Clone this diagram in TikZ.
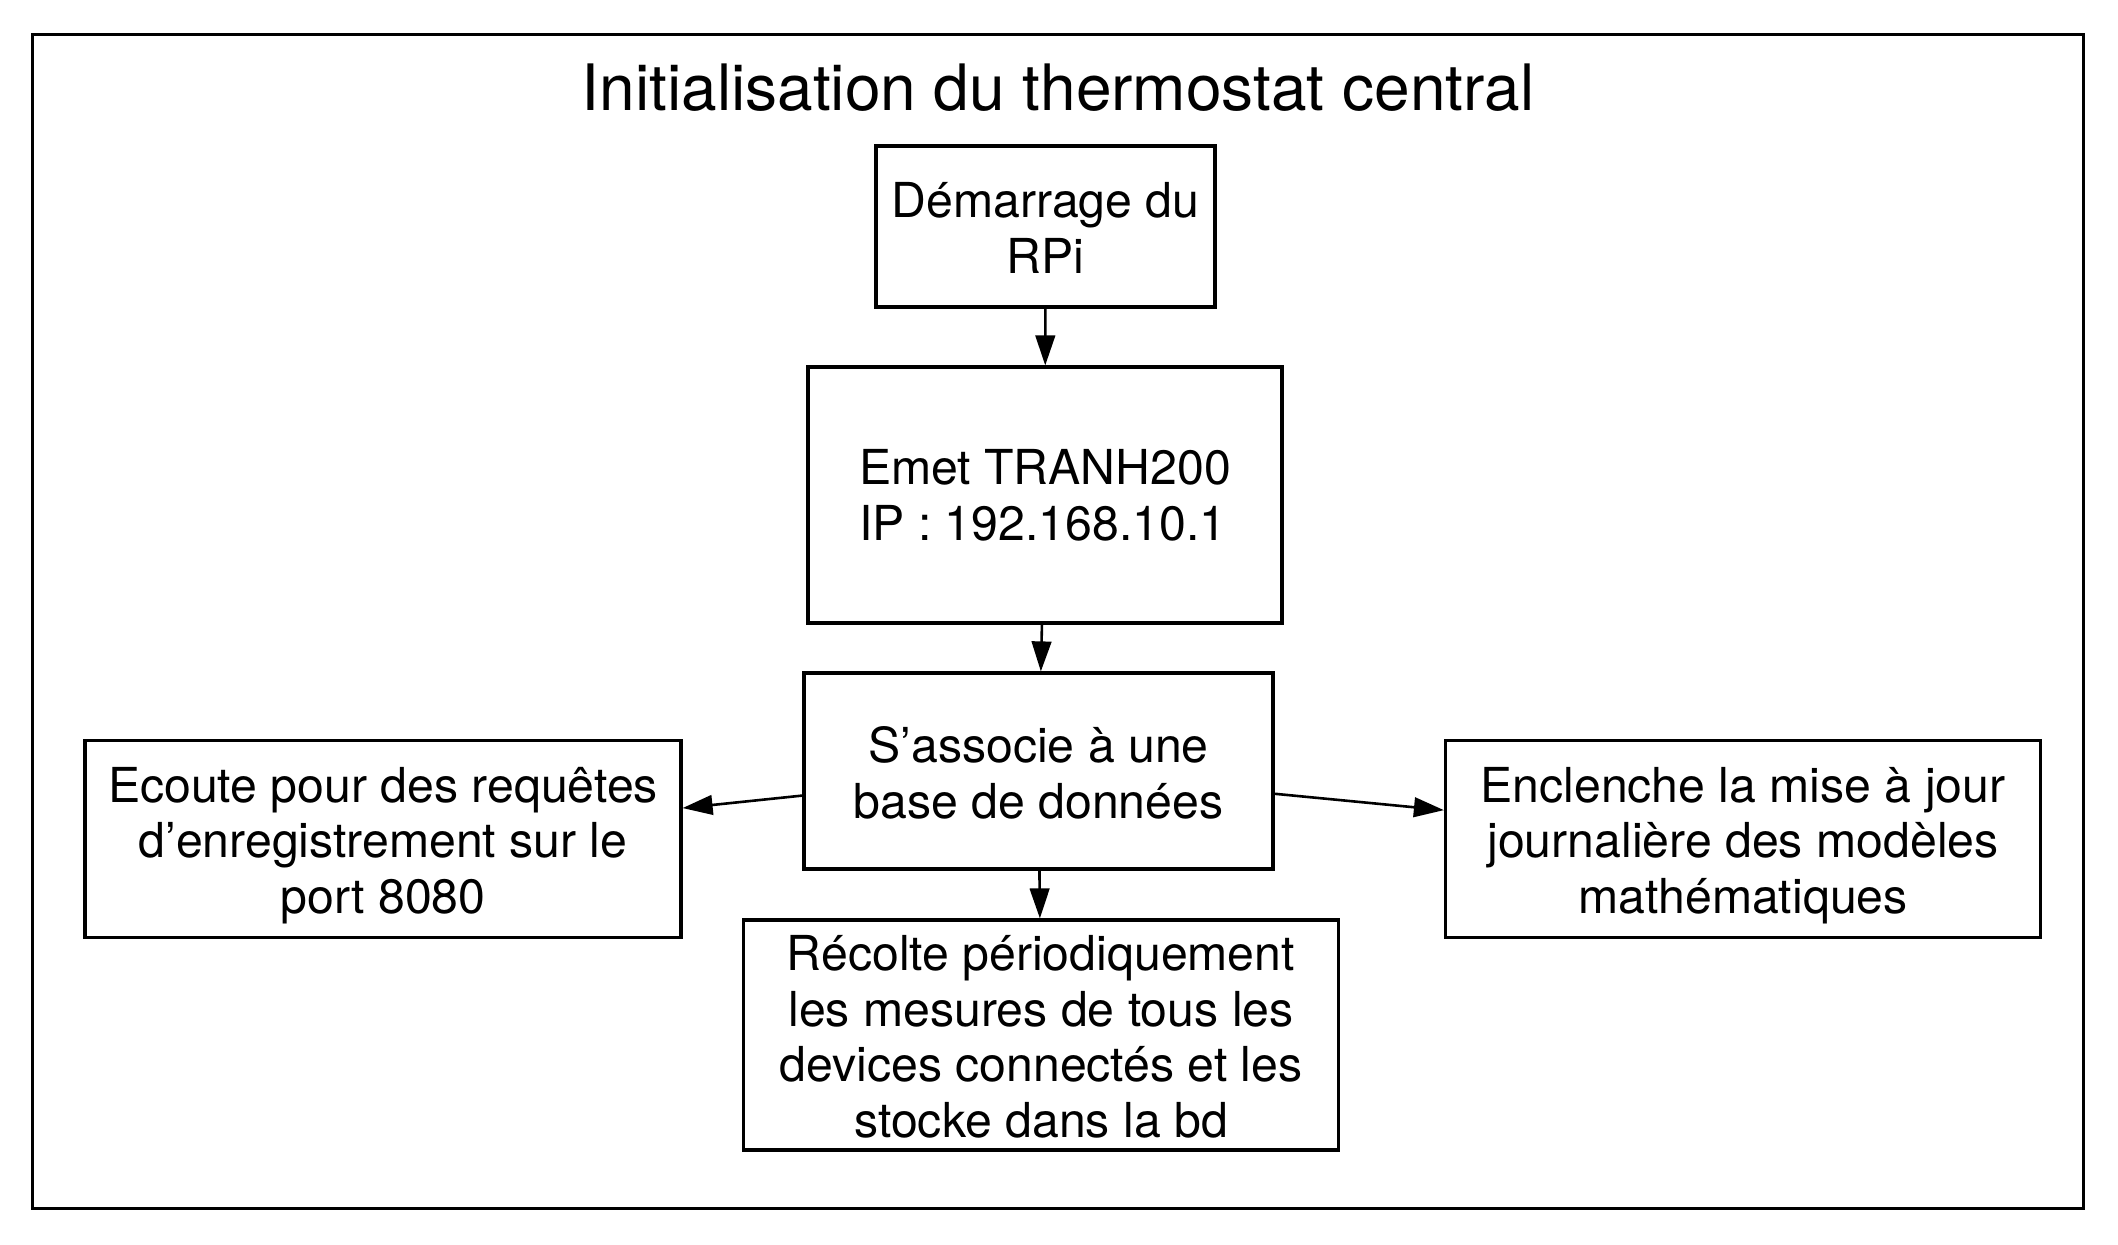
\documentclass[tikz,border=0pt]{standalone}
\usepackage{fontspec}
\setmainfont{TeX Gyre Heros}
\usetikzlibrary{arrows.meta}
\begin{document}
\begin{tikzpicture}[x=0.5pt,y=-0.5pt,
  box/.style={draw,line width=1.6pt,inner sep=0pt},
  txt/.style={align=center,inner sep=0pt,
    font=\fontsize{24.1pt}{27.8pt}\selectfont},
  arr/.style={-{Triangle[length=15pt,width=9.8pt]},line width=1.3pt},
  frame/.style={line width=1.5pt}]
\useasboundingbox (0,0) rectangle (2118,1245);
\draw[frame] (32.5,35) rectangle (2083,1208);
\node[anchor=base,inner sep=0pt,font=\fontsize{32pt}{36pt}\selectfont] (title) at (1058,111) {Initialisation du thermostat central};
\node[box,minimum width=169.5pt,minimum height=80.5pt,
  label={[txt,yshift=-0.7pt]center:{Démarrage du\\RPi}}] (b1) at (1045.5,226.5) {};
\node[box,minimum width=237pt,minimum height=128pt,
  label={[txt,align=left]center:{Emet TRANH200\\IP : 192.168.10.1}}] (b2) at (1045,495) {};
\node[box,minimum width=234.5pt,minimum height=98pt,
  label={[txt,yshift=-1pt]center:{S’associe à une\\base de données}}] (b3) at (1038.5,771) {};
\node[box,minimum width=298pt,minimum height=98.5pt,
  label={[txt,yshift=-3.2pt]center:{Ecoute pour des requêtes\\d’enregistrement sur le\\port 8080}}] (b4) at (383,839) {};
\node[box,minimum width=297.5pt,minimum height=98.5pt,
  label={[txt,yshift=-3.2pt]center:{Enclenche la mise à jour\\journalière des modèles\\mathématiques}}] (b5) at (1743,839) {};
\node[box,minimum width=297.5pt,minimum height=115pt,
  label={[txt,yshift=-0.8pt]center:{Récolte périodiquement\\les mesures de tous les\\devices connectés et les\\stocke dans la bd}}] (b6) at (1041,1035) {};
\draw[arr] (b1) -- (b2);
\draw[arr] (b2) -- (b3);
\draw[arr] (b3) -- (b4);
\draw[arr] (b3) -- (b5);
\draw[arr] (b3) -- (b6);
\end{tikzpicture}
\end{document}
